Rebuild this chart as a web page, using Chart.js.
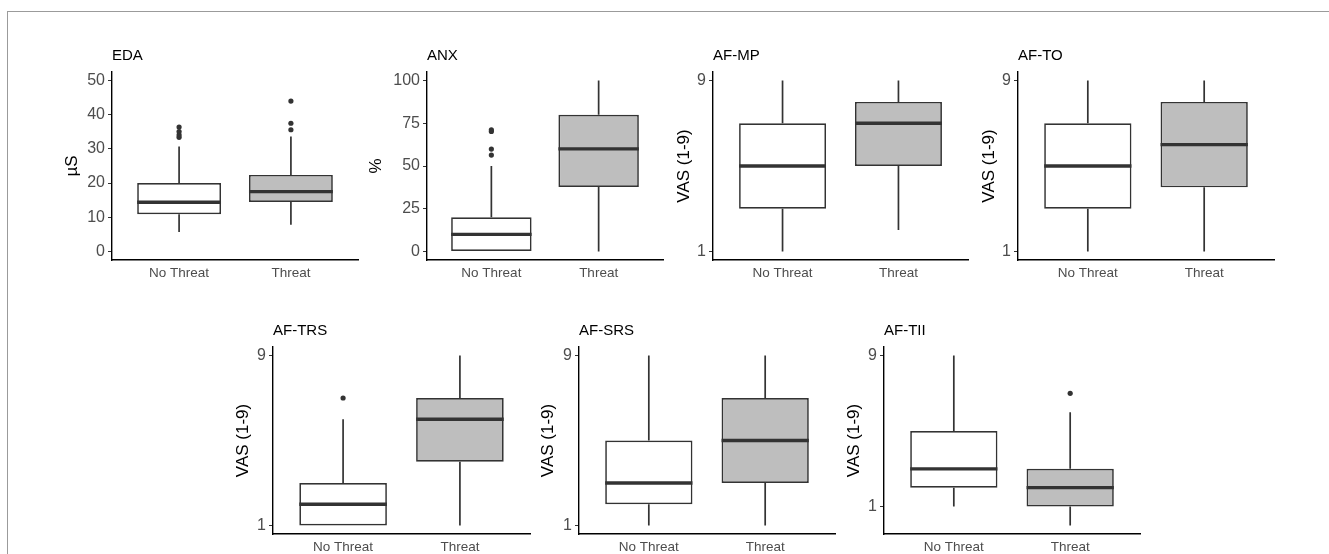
<!DOCTYPE html>
<html>
<head>
<meta charset="utf-8">
<script src="https://cdn.jsdelivr.net/npm/chart.js@4.4.1/dist/chart.umd.min.js"></script>
<style>
  html, body { margin: 0; padding: 0; background: #ffffff; overflow: hidden; width: 1329px; height: 554px; }
  #frame { position: absolute; left: 7px; top: 11px; width: 1340px; height: 600px;
           border-top: 1px solid #9b9b9b; border-left: 1px solid #9b9b9b; }
  canvas { position: absolute; }
</style>
</head>
<body>
<div id="frame"></div>
<script>
// ---------------- data ----------------
const categories = ['No Threat', 'Threat'];
const panelTitles = ['EDA', 'ANX', 'AF-MP', 'AF-TO', 'AF-TRS', 'AF-SRS', 'AF-TII'];
const yAxisTitles = ['µS', '%', 'VAS (1-9)', 'VAS (1-9)', 'VAS (1-9)', 'VAS (1-9)', 'VAS (1-9)'];
const yTickValues = [[0, 10, 20, 30, 40, 50], [0, 25, 50, 75, 100], [1, 9], [1, 9], [1, 9], [1, 9], [1, 9]];
const yLimits = [[0, 50], [0, 100], [1, 9], [1, 9], [1, 9], [1, 9], [0, 9]];

// per panel: [No Threat, Threat]
const lowerWhisker = [[5.7, 7.8], [0, 0], [1, 2], [1, 1], [1, 1], [1, 1], [1, 0]];
const q1 =           [[10.9, 14.5], [0, 37.7], [3, 5], [3, 4], [1, 4], [2, 3], [2, 1]];
const median =       [[14.4, 17.5], [10, 60], [5, 7], [5, 6], [2, 6], [3, 5], [3, 2]];
const q3 =           [[20.0, 22.4], [20, 80], [7, 8], [7, 8], [3, 7], [5, 7], [5, 3]];
const upperWhisker = [[30.7, 33.6], [50, 100], [9, 9], [9, 9], [6, 9], [9, 9], [9, 6]];
const outliers = [
  [[33.4, 34.1, 35.1, 36.4], [35.6, 37.5, 44.0]],
  [[56.4, 59.9, 70.2, 71.2], []],
  [[], []],
  [[], []],
  [[7], []],
  [[], []],
  [[], [7]]
];

// ---------------- layout / style ----------------
// plot-area rectangles (L, T, R, B) and centre of rotated y title
const panelLayout = [
  { L: 112,  T: 72,  R: 358,  B: 260, yt: 72 },
  { L: 427,  T: 72,  R: 663,  B: 260, yt: 376 },
  { L: 713,  T: 72,  R: 968,  B: 260, yt: 683.5 },
  { L: 1018, T: 72,  R: 1274, B: 260, yt: 988.5 },
  { L: 273,  T: 347, R: 530,  B: 534, yt: 243.3 },
  { L: 579,  T: 347, R: 835,  B: 534, yt: 547.5 },
  { L: 884,  T: 347, R: 1140, B: 534, yt: 853.8 }
];
const BOX_W = 0.75;
const LINE = '#333333';
const boxFills = ['#FFFFFF', '#BEBEBE'];
const TITLE_H = 40, XAXIS_H = 30, PAD_R = 6;

Chart.defaults.font.family = "'Liberation Sans', Arial, Helvetica, sans-serif";

const xPos = categories.map((_, k) => k + 1);

panelTitles.forEach((title, i) => {
  const lay = panelLayout[i];
  const cv = document.createElement('canvas');
  const left = Math.round(lay.yt - 10);
  const top = lay.T - TITLE_H;
  const w = lay.R + PAD_R - left;
  const h = lay.B - lay.T + TITLE_H + XAXIS_H;
  cv.width = w; cv.height = h;
  cv.style.left = left + 'px'; cv.style.top = top + 'px';
  cv.style.width = w + 'px'; cv.style.height = h + 'px';
  document.body.appendChild(cv);
  const yw = lay.L - left;

  const whiskers = [];
  const medians = [];
  const points = [];
  xPos.forEach((x, k) => {
    whiskers.push({ x, y: lowerWhisker[i][k] }, { x, y: q1[i][k] }, { x, y: null },
                  { x, y: q3[i][k] }, { x, y: upperWhisker[i][k] }, { x, y: null });
    medians.push({ x: x - BOX_W / 2, y: median[i][k] }, { x: x + BOX_W / 2, y: median[i][k] }, { x, y: null });
    outliers[i][k].forEach(v => points.push({ x, y: v }));
  });

  const [lo, hi] = yLimits[i];
  const ex = 0.05 * (hi - lo);

  new Chart(cv, {
    type: 'bar',
    data: {
      datasets: [
        {
          type: 'bar',
          data: xPos.map((x, k) => ({ x, y: [q1[i][k], q3[i][k]] })),
          backgroundColor: boxFills,
          borderColor: LINE,
          borderWidth: 1.7,
          borderSkipped: false,
          categoryPercentage: 1,
          barPercentage: BOX_W,
          order: 3
        },
        {
          type: 'line',
          data: whiskers,
          borderColor: LINE,
          borderWidth: 1.7,
          pointRadius: 0,
          spanGaps: false,
          borderCapStyle: 'butt',
          order: 4
        },
        {
          type: 'line',
          data: medians,
          borderColor: LINE,
          borderWidth: 3.3,
          pointRadius: 0,
          spanGaps: false,
          borderCapStyle: 'butt',
          order: 1
        },
        {
          type: 'scatter',
          data: points,
          backgroundColor: LINE,
          borderColor: LINE,
          pointRadius: 2.6,
          pointBorderWidth: 0,
          order: 0
        }
      ]
    },
    options: {
      responsive: false,
      animation: false,
      events: [],
      layout: { padding: { left: 0, top: 0, right: PAD_R, bottom: 0 } },
      plugins: {
        legend: { display: false },
        tooltip: { enabled: false },
        title: {
          display: true, text: title, align: 'start', fullSize: false,
          color: '#000000', font: { size: 15, weight: 'normal' },
          padding: { top: 14.5, bottom: 7.5 }
        }
      },
      scales: {
        x: {
          type: 'linear', bounds: 'data', offset: false,
          min: 1 - 0.6, max: categories.length + 0.6,
          afterBuildTicks: s => { s.ticks = xPos.map(v => ({ value: v })); },
          afterFit: s => { s.height = XAXIS_H; },
          ticks: {
            callback: (v, idx) => categories[idx],
            color: '#4D4D4D', font: { size: 13.5 }, padding: 5,
            maxRotation: 0, minRotation: 0, autoSkip: false
          },
          grid: { display: true, drawOnChartArea: false, drawTicks: false, offset: false },
          border: { display: true, color: '#000000', width: 1.4 }
        },
        y: {
          type: 'linear', bounds: 'data', beginAtZero: false,
          min: lo - ex, max: hi + ex,
          afterBuildTicks: s => { s.ticks = yTickValues[i].map(v => ({ value: v })); },
          afterFit: s => { s.width = yw; },
          ticks: { color: '#4D4D4D', font: { size: 16 }, padding: 3, autoSkip: false },
          grid: { display: true, drawOnChartArea: false, drawTicks: true, tickLength: 4, color: LINE, lineWidth: 1 },
          border: { display: true, color: '#000000', width: 1.4 },
          title: { display: true, text: yAxisTitles[i], color: '#000000', font: { size: 17 }, padding: 0 }
        }
      }
    }
  });
});
</script>
</body>
</html>
